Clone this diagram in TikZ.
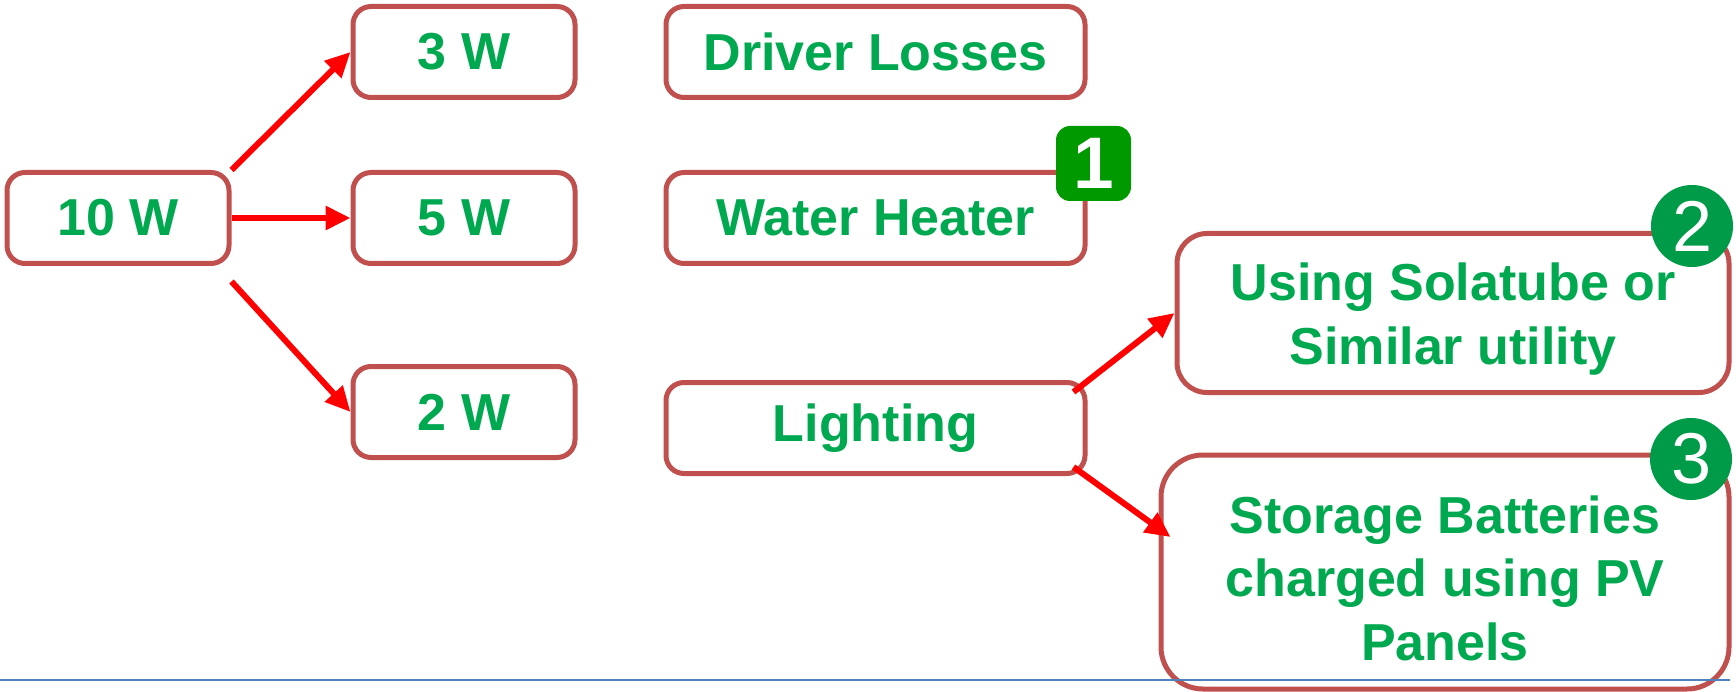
\documentclass[tikz,border=0pt]{standalone}
\usepackage{fontspec}
\usetikzlibrary{arrows.meta,calc}
\newfontfamily\lblfont{Liberation Sans}
\definecolor{boxred}{RGB}{192,80,77}
\definecolor{txtgreen}{RGB}{0,168,80}
\definecolor{badgeA}{RGB}{0,153,0}
\definecolor{badgeB}{RGB}{0,155,72}
\definecolor{rulecol}{RGB}{79,129,189}
\newcommand{\toppad}{\rule{0pt}{50pt}}
\begin{document}
\begin{tikzpicture}[x=1pt,y=-1pt,
  wbox/.style={draw=boxred, fill=white, line width=5pt, rounded corners=18pt,
    align=center, text=txtgreen, inner sep=0pt,
    font={\lblfont\bfseries\fontsize{52}{63.5}\selectfont},
    execute at begin node={\setlength{\baselineskip}{63.5pt}}},
  small/.style={wbox, minimum width=222pt, minimum height=91pt},
  wide/.style={wbox, minimum width=419pt, minimum height=91pt},
  flow/.style={draw=red, line width=6pt, -{Triangle[length=25pt,width=23pt]}},
  sqbadge/.style={fill=badgeA, rounded corners=14pt, minimum width=75pt,
    minimum height=75pt, inner sep=0pt, text=white,
    font={\lblfont\bfseries\fontsize{73}{73}\selectfont}},
  rdbadge/.style={circle, fill=badgeB, minimum size=82pt, inner sep=0pt,
    text=white, font={\lblfont\fontsize{72}{72}\selectfont}}]
\useasboundingbox (0,0) rectangle (1736,692);

% power split
\node[small] (ten)   at (118,218)  {10 W};
\node[small] (three) at (464,52) {3 W};
\node[small] (five)  at (464,218)  {5 W};
\node[small] (two)   at (464,412)  {2 W};

% where the power goes
\node[wide] (driver) at (875.5,52) {Driver Losses};
\node[wide] (water)  at (875.5,218)  {Water Heater};
\node[wide] (light)  at (875.5,428)  {Lighting};

% lighting alternatives
\node[wbox, rounded corners=30pt, minimum width=552pt, minimum height=159pt]
  (sola) at (1453,313) {\toppad Using Solatube or\\Similar utility};
\node[wbox, rounded corners=42pt, minimum width=568pt, minimum height=234pt]
  (stor) at (1445,572) {\toppad Storage Batteries\\charged using PV\\Panels};

% numbered markers
\node[sqbadge] (b1) at (1093.5,163.5) {1};
\node[rdbadge] (b2) at (1692,226) {2};
\node[rdbadge] (b3) at (1691,459) {3};

% arrows
\draw[flow] (ten.north east) -- (three.west);
\draw[flow] (ten.east) -- (five.west);
\draw[flow] ($(ten.south east)+(0,15.5)$) -- (two.west);
\draw[flow] ($(light.north east)+(-14,12)$) -- (sola.west);
\draw[flow] ($(light.south east)+(-14,-9)$) -- ($(stor.west)+(12,-35)$);

% bottom rule
\draw[rulecol, line width=2pt] (0,680) -- (1730,680);
\end{tikzpicture}
\end{document}
